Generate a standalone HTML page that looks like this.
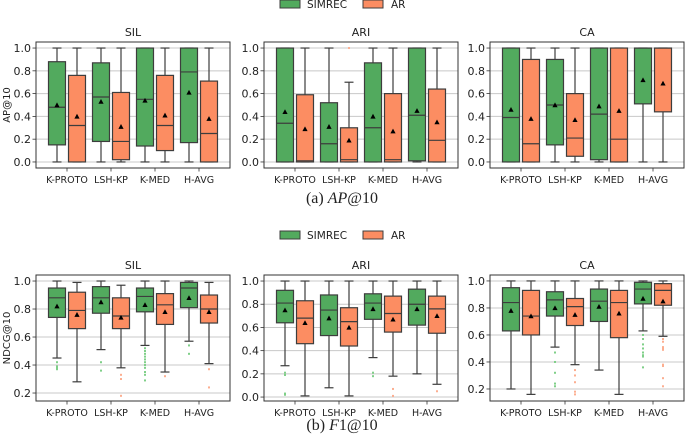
<!DOCTYPE html>
<html><head><meta charset="utf-8">
<style>
html,body{margin:0;padding:0;background:#fff;}
svg{display:block;font-family:"DejaVu Sans","Liberation Sans",sans-serif;}
</style></head>
<body>
<svg id="chart" width="685" height="440" viewBox="0 0 685 440"></svg>
<script>
const methods = ["K-PROTO","LSH-KP","K-MED","H-AVG"];
const panelTitles = ["SIL","ARI","CA"];
// each box: [whislo, q1, med, q3, whishi, mean]
const apSimrec = [
 [[0,.15,.48,.88,1,.50],[0,.18,.57,.87,1,.53],[0,.14,.55,1,1,.54],[0,.17,.79,1,1,.61]],
 [[0,0,.34,1,1,.44],[0,0,.16,.52,1,.31],[0,0,.30,.87,1,.40],[0,.01,.41,1,1,.45]],
 [[0,0,.39,1,1,.46],[0,.15,.50,.90,1,.50],[0,.02,.42,1,1,.49],[0,.51,1,1,1,.72]]
];
const apAr = [
 [[0,0,.32,.76,1,.40],[0,.02,.18,.61,1,.31],[0,.10,.32,.76,1,.41],[0,0,.25,.71,1,.38]],
 [[0,0,.01,.59,1,.29],[0,0,.02,.30,.70,.19],[0,0,.02,.60,1,.27],[0,0,.19,.64,1,.35]],
 [[0,0,.16,.90,1,.38],[0,.05,.21,.60,1,.37],[0,0,.20,1,1,.45],[0,.44,1,1,1,.69]]
];
const apSimrecFliers = [[[],[],[],[]],[[],[],[],[]],[[],[],[],[]]];
const apArFliers = [[[],[],[],[]],[[],[1.0],[],[]],[[],[],[],[]]];
const ndSimrec = [
 [[.45,.74,.88,.95,1,.82],[.51,.77,.88,.96,1,.85],[.54,.78,.89,.95,1,.83],[.57,.81,.95,.99,1,.88]],
 [[.27,.64,.81,.92,1,.75],[.08,.53,.75,.88,1,.68],[.34,.67,.81,.89,1,.76],[.20,.62,.80,.93,1,.76]],
 [[.20,.63,.84,.95,1,.78],[.51,.74,.86,.92,1,.80],[.34,.70,.85,.94,1,.81],[.63,.83,.94,.99,1,.87]]
];
const ndAr = [
 [[.28,.66,.79,.92,.99,.76],[.38,.66,.75,.88,.97,.74],[.35,.69,.83,.91,1,.78],[.41,.70,.80,.90,.99,.78]],
 [[.01,.46,.68,.83,1,.64],[.01,.44,.65,.77,1,.60],[.18,.56,.72,.87,1,.67],[.11,.55,.76,.87,1,.70]],
 [[.16,.60,.74,.93,1,.74],[.38,.67,.81,.87,1,.75],[.16,.58,.84,.93,1,.76],[.59,.82,.93,.98,1,.85]]
];
const ndSimrecFliers = [
 [[.42,.39,.37,.38],[.42,.36],[.52,.50,.48,.46,.44,.42,.40,.38,.35,.33,.29],[.54,.48]],
 [[.21,.19,.03,.02],[],[.21,.18],[]],
 [[],[.47,.40,.32,.24,.22],[],[.60,.57,.53,.50,.47,.45,.44,.36]]
];
const ndArFliers = [
 [[],[.33,.30,.18],[.32],[.37,.24]],
 [[],[],[.07,.01],[.05]],
 [[],[.34,.30,.25,.18,.16],[],[.57,.55,.51,.50,.49,.38,.37,.28,.22]]
];
const apTicks = [0,0.2,0.4,0.6,0.8,1.0];
const ndTicksRow = [[0.2,0.4,0.6,0.8,1.0],[0,0.2,0.4,0.6,0.8,1.0],[0.2,0.4,0.6,0.8,1.0]];

const NS="http://www.w3.org/2000/svg";
const svg=document.getElementById('chart');
function mk(tag,attrs,parent,text){const e=document.createElementNS(NS,tag);for(const k in attrs)e.setAttribute(k,attrs[k]);if(text!==undefined)e.textContent=text;(parent||svg).appendChild(e);return e;}
const GREEN="#52aa5e",ORANGE="#fc8d62",EDGE="#3d3d3d";
const panelLefts=[36,264,490];
const PW=194;

function drawPanel(pi,top,bottom,yDomain,ticks,sim,ar,simF,arF,showTitle,ylabel,row){
  const L=panelLefts[pi],R=L+PW;
  const y=v=>bottom-(v-yDomain[0])/(yDomain[1]-yDomain[0])*(bottom-top);
  const g=mk('g',{},svg);
  
  
  ticks.forEach(t=>{
    const gl=mk('line',{x1:L,x2:R,y1:y(t),y2:y(t),stroke:"#c8c8c8","stroke-width":1},g);
    
    
    mk('line',{x1:L-3.5,x2:L,y1:y(t),y2:y(t),stroke:"#333","stroke-width":0.8},g);
    const tl=mk('text',{x:L-5,y:y(t)+4,"font-size":11,"text-anchor":"end",fill:"#222"},g,t.toFixed(1));
    
    
  });
  const t=mk('text',{x:(L+R)/2,y:top-6,"font-size":11,"text-anchor":"middle",fill:"#222"},g,panelTitles[pi]);
  
  
  methods.forEach((m,i)=>{
    const cx=L+31+44*i;
    mk('line',{x1:cx,x2:cx,y1:bottom,y2:bottom+3.5,stroke:"#333","stroke-width":0.8},g);
    const xl=mk('text',{x:cx,y:bottom+15,"font-size":9.5,"text-anchor":"middle",fill:"#222"},g,m);
    
    
    [[sim[i],simF[i],GREEN,"#7fcf88",-10,'simrec'],[ar[i],arF[i],ORANGE,"#fcae90",10,'ar']].forEach(([b,fl,col,fcol,off,nm])=>{
      const bx=cx+off,hw=8.5;
      const bg=mk('g',{},g);
      
      
      mk('line',{x1:bx,x2:bx,y1:y(b[0]),y2:y(b[1]),stroke:EDGE,"stroke-width":1.2},bg);
      mk('line',{x1:bx,x2:bx,y1:y(b[3]),y2:y(b[4]),stroke:EDGE,"stroke-width":1.2},bg);
      mk('line',{x1:bx-4.5,x2:bx+4.5,y1:y(b[0]),y2:y(b[0]),stroke:EDGE,"stroke-width":1.2},bg);
      mk('line',{x1:bx-4.5,x2:bx+4.5,y1:y(b[4]),y2:y(b[4]),stroke:EDGE,"stroke-width":1.2},bg);
      mk('rect',{x:bx-hw,y:y(b[3]),width:2*hw,height:Math.max(0.5,y(b[1])-y(b[3])),fill:col,stroke:EDGE,"stroke-width":1.2},bg);
      mk('line',{x1:bx-hw,x2:bx+hw,y1:y(b[2]),y2:y(b[2]),stroke:EDGE,"stroke-width":1.2},bg);
      const my=y(b[5]);
      mk('polygon',{points:`${bx-2.6},${my+2.2} ${bx+2.6},${my+2.2} ${bx},${my-2.6}`,fill:"#000"},bg);
      fl.forEach(v=>{mk('rect',{x:bx-1,y:y(v)-1,width:2,height:2,fill:fcol},bg);});
    });
  });
  mk('rect',{x:L,y:top,width:PW,height:bottom-top,fill:"none",stroke:"#333","stroke-width":1},g);
  if(ylabel){
    const yl=mk('text',{x:0,y:0,"font-size":10,"text-anchor":"middle",fill:"#222",transform:`translate(10,${(top+bottom)/2}) rotate(-90)`},g,ylabel);
    
    
  }
}
function legend(yTop){
  const g=mk('g',{},svg);
  
  
  const e1=mk('g',{},g);
  
  
  mk('rect',{x:280,y:yTop,width:20,height:8,fill:GREEN,stroke:EDGE,"stroke-width":1},e1);
  mk('text',{x:307,y:yTop+8,"font-size":10.5,fill:"#222"},e1,"SIMREC");
  const e2=mk('g',{},g);
  
  
  mk('rect',{x:363,y:yTop,width:20,height:8,fill:ORANGE,stroke:EDGE,"stroke-width":1},e2);
  mk('text',{x:391,y:yTop+8,"font-size":10.5,fill:"#222"},e2,"AR");
}
legend(0);
legend(231);
for(let p=0;p<3;p++){
  drawPanel(p,42,168,[-0.053,1.053],apTicks,apSimrec[p],apAr[p],apSimrecFliers[p],apArFliers[p],true,p===0?"AP@10":null,'ap');
}
const ndDomains=[[0.143,1.043],[-0.034,1.052],[0.111,1.044]];
for(let p=0;p<3;p++){
  drawPanel(p,275,401,ndDomains[p],ndTicksRow[p],ndSimrec[p],ndAr[p],ndSimrecFliers[p],ndArFliers[p],true,p===0?"NDCG@10":null,'ndcg');
}
const c1=mk('text',{x:342,y:203,"font-size":16,"text-anchor":"middle",fill:"#222","font-family":"Liberation Serif, serif"});


c1.innerHTML='(a) <tspan font-style="italic">AP</tspan>@10';
const c2=mk('text',{x:342,y:430,"font-size":16,"text-anchor":"middle",fill:"#222","font-family":"Liberation Serif, serif"});


c2.innerHTML='(b) <tspan font-style="italic">F</tspan>1@10';
</script>
</body></html>
